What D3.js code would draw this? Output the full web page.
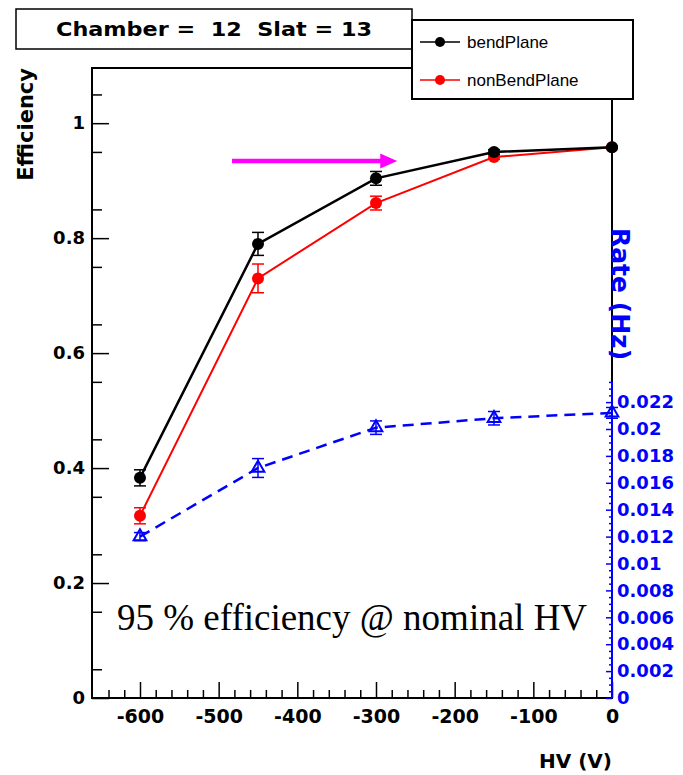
<!DOCTYPE html>
<html>
<head>
<meta charset="utf-8">
<script src="https://cdn.jsdelivr.net/npm/d3@7"></script>
<style>
  body { margin: 0; background: #fff; }
  text { white-space: pre; }
</style>
</head>
<body>
<div id="chart"></div>
<script>
// data
const hv = [-600, -450, -300, -150, 0];
const bendEff = [0.383, 0.790, 0.904, 0.950, 0.958];
const bendErr = [0.014, 0.020, 0.012, 0.004, 0.002];
const nonBendEff = [0.317, 0.730, 0.861, 0.941, 0.958];
const nonBendErr = [0.014, 0.025, 0.012, 0.004, 0.002];
const rate = [0.0120, 0.0171, 0.0201, 0.0208, 0.0212];
const rateErr = [0.0003, 0.0007, 0.0005, 0.0005, 0.0004];

const hvTicks = [-600, -500, -400, -300, -200, -100, 0];
const effTicks = [0, 0.2, 0.4, 0.6, 0.8, 1];
const rateTicks = [0, 0.002, 0.004, 0.006, 0.008, 0.01, 0.012, 0.014, 0.016, 0.018, 0.02, 0.022];

const width = 683, height = 775;
const frame = { left: 92, right: 612, top: 68, bottom: 698 };
const boldFont = '"DejaVu Sans", sans-serif';
const blue = '#0000ff';

const svg = d3.select('#chart').append('svg')
  .attr('width', width)
  .attr('height', height);

// scales
const x = d3.scaleLinear().domain([-661, 0]).range([frame.left, frame.right]);
const y = d3.scaleLinear().domain([0, 1.096]).range([frame.bottom, frame.top]);
const yRate = d3.scaleLinear().domain([0, 0.0235]).range([frame.bottom, frame.bottom - 0.0235 * 13450]);

const fmt = d => String(+d.toFixed(3));

// frame
svg.append('rect')
  .attr('x', frame.left).attr('y', frame.top)
  .attr('width', frame.right - frame.left).attr('height', frame.bottom - frame.top)
  .attr('fill', 'none').attr('stroke', '#000').attr('stroke-width', 2);

function styleAxis(g, color, size) {
  g.select('.domain').remove();
  g.selectAll('line').attr('stroke', color).attr('stroke-width', 1.5);
  g.selectAll('text')
    .attr('fill', color)
    .style('font-family', boldFont)
    .style('font-weight', 'bold')
    .style('font-size', size + 'px');
}

// left axis (efficiency)
svg.append('g')
  .attr('transform', `translate(${frame.left},0)`)
  .call(d3.axisLeft(y).tickValues(effTicks).tickSize(-17).tickSizeOuter(0).tickPadding(7).tickFormat(fmt))
  .call(g => styleAxis(g, '#000', 18));
svg.append('g')
  .attr('transform', `translate(${frame.left},0)`)
  .call(d3.axisLeft(y).tickValues(d3.range(0.05, 1.09, 0.1)).tickSize(-10).tickSizeOuter(0).tickFormat(''))
  .call(g => styleAxis(g, '#000', 18));

// bottom axis (HV)
svg.append('g')
  .attr('transform', `translate(0,${frame.bottom})`)
  .call(d3.axisBottom(x).tickValues(hvTicks).tickSize(-16).tickSizeOuter(0).tickPadding(12).tickFormat(d => String(d)))
  .call(g => styleAxis(g, '#000', 19));
svg.append('g')
  .attr('transform', `translate(0,${frame.bottom})`)
  .call(d3.axisBottom(x).tickValues(d3.range(-640, 0, 20).filter(v => v % 100 !== 0)).tickSize(-8).tickSizeOuter(0).tickFormat(''))
  .call(g => styleAxis(g, '#000', 19));

// right axis (rate)
svg.append('line')
  .attr('x1', frame.right).attr('x2', frame.right)
  .attr('y1', yRate(0)).attr('y2', yRate(0.0235))
  .attr('stroke', blue).attr('stroke-width', 2);
svg.append('g')
  .attr('transform', `translate(${frame.right},0)`)
  .call(d3.axisRight(yRate).tickValues(rateTicks).tickSize(-6).tickSizeOuter(0).tickPadding(5).tickFormat(fmt))
  .call(g => styleAxis(g, blue, 18));
svg.append('g')
  .attr('transform', `translate(${frame.right},0)`)
  .call(d3.axisRight(yRate).tickValues(d3.range(0.0005, 0.0236, 0.0005).filter(v => Math.abs(v / 0.002 - Math.round(v / 0.002)) > 0.01)).tickSize(-3).tickSizeOuter(0).tickFormat(''))
  .call(g => styleAxis(g, blue, 18));

// axis titles
svg.append('text')
  .attr('transform', `translate(33,${frame.top}) rotate(-90)`)
  .attr('text-anchor', 'end')
  .style('font-family', boldFont).style('font-weight', 'bold').style('font-size', '21px')
  .text('Efficiency');
svg.append('text')
  .attr('x', frame.right).attr('y', 768)
  .attr('text-anchor', 'end')
  .style('font-family', boldFont).style('font-weight', 'bold').style('font-size', '20px')
  .text('HV (V)');
svg.append('text')
  .attr('transform', `translate(${frame.right},228) rotate(90)`)
  .attr('fill', blue)
  .style('font-family', boldFont).style('font-weight', 'bold').style('font-size', '25px')
  .text('Rate (Hz)');

// series
const series = [
  { name: 'bendPlane', color: '#000', vals: bendEff, errs: bendErr, sy: y, width: 2.5, dash: null },
  { name: 'nonBendPlane', color: '#ff0000', vals: nonBendEff, errs: nonBendErr, sy: y, width: 2, dash: null },
  { name: 'rate', color: blue, vals: rate, errs: rateErr, sy: yRate, width: 2.5, dash: '11,7' }
];

series.slice().reverse().forEach(s => {
  const pts = hv.map((h, i) => ({ h, v: s.vals[i], e: s.errs[i] }));
  const g = svg.append('g');
  g.append('path')
    .datum(pts)
    .attr('fill', 'none')
    .attr('stroke', s.color)
    .attr('stroke-width', s.width)
    .attr('stroke-dasharray', s.dash)
    .attr('d', d3.line().x(d => x(d.h)).y(d => s.sy(d.v)));

  // error bars
  const eb = g.selectAll('.eb').data(pts).join('g');
  eb.append('line')
    .attr('x1', d => x(d.h)).attr('x2', d => x(d.h))
    .attr('y1', d => s.sy(d.v - d.e)).attr('y2', d => s.sy(d.v + d.e))
    .attr('stroke', s.color).attr('stroke-width', 1.5);
  [-1, 1].forEach(k => {
    eb.append('line')
      .attr('x1', d => x(d.h) - 6).attr('x2', d => x(d.h) + 6)
      .attr('y1', d => s.sy(d.v + k * d.e)).attr('y2', d => s.sy(d.v + k * d.e))
      .attr('stroke', s.color).attr('stroke-width', 1.5);
  });

  // markers
  if (s.name === 'rate') {
    g.selectAll('.m').data(pts).join('path')
      .attr('transform', d => `translate(${x(d.h)},${s.sy(d.v)})`)
      .attr('d', d3.symbol(d3.symbolTriangle).size(70))
      .attr('fill', 'none').attr('stroke', s.color).attr('stroke-width', 2);
  } else {
    g.selectAll('.m').data(pts).join('circle')
      .attr('cx', d => x(d.h)).attr('cy', d => s.sy(d.v))
      .attr('r', 6).attr('fill', s.color);
  }
});

// magenta arrow
const arrow = { x1: -483, x2: -273, v: 0.934 };
const ay = y(arrow.v), ax2 = x(arrow.x2);
svg.append('line')
  .attr('x1', x(arrow.x1)).attr('x2', ax2 - 12)
  .attr('y1', ay).attr('y2', ay)
  .attr('stroke', '#ff00ff').attr('stroke-width', 4.5);
svg.append('path')
  .attr('d', `M${ax2},${ay} L${ax2 - 17},${ay - 7.5} L${ax2 - 17},${ay + 7.5} Z`)
  .attr('fill', '#ff00ff');

// annotation
svg.append('text')
  .attr('x', 117).attr('y', 630)
  .style('font-family', '"Liberation Serif", "Times New Roman", serif')
  .style('font-size', '37px')
  .text('95 % efficiency @ nominal HV');

// title box
svg.append('rect')
  .attr('x', 16).attr('y', 9).attr('width', 396).attr('height', 40)
  .attr('fill', '#fff').attr('stroke', '#000').attr('stroke-width', 1.5);
svg.append('text')
  .attr('x', 214).attr('y', 36)
  .attr('text-anchor', 'middle')
  .attr('textLength', 316).attr('lengthAdjust', 'spacingAndGlyphs')
  .style('font-family', boldFont).style('font-weight', 'bold').style('font-size', '20px')
  .text('Chamber =  12  Slat = 13');

// legend
const legend = svg.append('g');
legend.append('rect')
  .attr('x', 412).attr('y', 20).attr('width', 221).attr('height', 79)
  .attr('fill', '#fff').attr('stroke', '#000').attr('stroke-width', 2);
const items = legend.selectAll('.item').data(series.slice(0, 2)).join('g')
  .attr('transform', (d, i) => `translate(0,${42 + i * 38})`);
items.append('line')
  .attr('x1', 420).attr('x2', 460)
  .attr('stroke', d => d.color).attr('stroke-width', 1.5);
items.append('circle')
  .attr('cx', 440).attr('r', 5).attr('fill', d => d.color);
items.append('text')
  .attr('x', 467).attr('dy', '0.35em')
  .style('font-family', '"Liberation Sans", Arial, sans-serif')
  .style('font-size', '17px')
  .text(d => d.name);
</script>
</body>
</html>
